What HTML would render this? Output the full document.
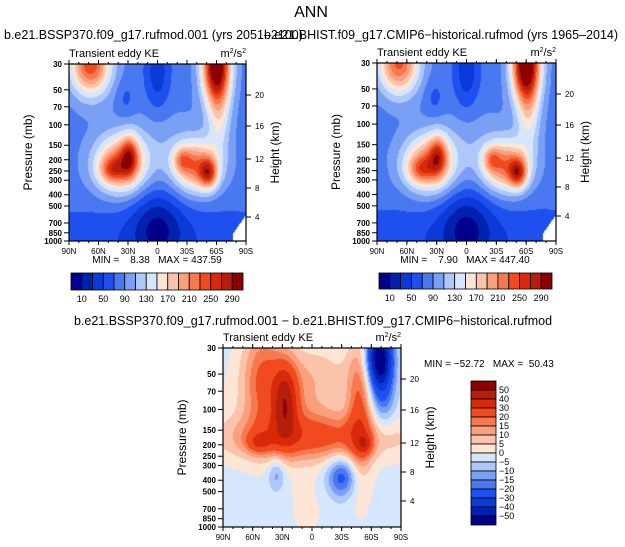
<!DOCTYPE html>
<html><head><meta charset="utf-8">
<style>
body{margin:0;background:#fff;width:625px;height:547px;overflow:hidden;position:relative;font-family:"Liberation Sans",sans-serif}
canvas{position:absolute}
svg{position:absolute;left:0;top:0}
</style></head>
<body>
<canvas id="c1" style="left:69px;top:64px" width="177" height="177"></canvas>
<canvas id="c2" style="left:377px;top:63px" width="179" height="178"></canvas>
<canvas id="c3" style="left:223px;top:348px" width="178" height="179"></canvas>
<svg id="s" width="625" height="547" font-family="Liberation Sans, sans-serif"></svg>
<script>
// Data: blobs [u(0=90N,1=90S), v(0=30mb,1=1000mb), su, sv, amplitude]
const base1 = 82;
const blobs1 = [
 [0.12,0.0,0.08,0.12,165],[0.835,0.0,0.055,0.15,250],[0.85,0.3,0.045,0.15,55],
 [0.34,0.52,0.035,0.08,100],[0.24,0.6,0.05,0.05,60],[0.29,0.57,0.1,0.11,140],
 [0.64,0.54,0.035,0.05,60],[0.79,0.62,0.035,0.06,110],[0.72,0.58,0.09,0.1,135],
 [0.5,0.92,0.1,0.15,-55],[0.5,0.05,0.05,0.15,-45],[0.5,1.0,0.6,0.15,-30],[0.32,0.2,0.04,0.08,-20],
 [0.5,0.45,0.2,0.15,20]
];
const base2 = 81;
const blobs2 = [
 [0.12,0.0,0.08,0.12,155],[0.835,0.0,0.055,0.15,260],[0.85,0.3,0.045,0.15,55],
 [0.34,0.52,0.035,0.08,90],[0.24,0.6,0.05,0.05,55],[0.29,0.57,0.1,0.11,132],
 [0.64,0.54,0.035,0.05,60],[0.79,0.62,0.035,0.06,115],[0.72,0.58,0.09,0.1,135],
 [0.5,0.92,0.1,0.15,-55],[0.5,0.05,0.05,0.15,-45],[0.5,1.0,0.6,0.15,-30],[0.32,0.2,0.04,0.08,-20],
 [0.5,0.45,0.2,0.15,20]
];
const base3 = -2;
const blobs3 = [
 [0.35,0.3,0.05,0.15,35],[0.5,0.5,0.35,0.09,22],[0.22,0.15,0.08,0.22,18],[0.2,0.53,0.05,0.04,15],
 [0.4,0.3,0.2,0.2,12],
 [0.77,0.35,0.05,0.28,22],[0.8,0.54,0.03,0.04,15],[0.88,0.05,0.05,0.12,-55],[0.9,0.25,0.05,0.15,-15],
 [0.3,0.7,0.035,0.07,-12],[0.67,0.72,0.06,0.08,-22],[0.55,0.12,0.15,0.1,4],[0.47,0.9,0.08,0.15,3]
];
const levelsAbs = [10,30,50,70,90,110,130,150,170,190,210,230,250,270,290];
const levelsDiff = [-50,-40,-30,-20,-15,-10,-5,0,5,10,15,20,30,40,50];
const colors = ['#00008c','#0020b0','#0a3ad8','#1e50f0','#4a78f0','#7aa0f5','#aec8fa','#d6e6fc','#fde6d6','#fbc4aa','#f9a07e','#f57a50','#f04a1e','#d82a0a','#b41e0a','#8c0000'];
const latLabels = ['90N','60N','30N','0','30S','60S','90S'];
const presTicks = [30,50,70,100,150,200,250,300,400,500,700,850,1000];
const heightTicks = [4,8,12,16,20];
const heightOffsets = [153,124,95,62,31];

function field(base,blobs,u,v){let f=base;for(const b of blobs){const du=(u-b[0])/b[2],dv=(v-b[1])/b[3];f+=b[4]*Math.exp(-0.5*(du*du+dv*dv));}return f;}
function lvl(val,levels){let i=0;while(i<levels.length&&val>=levels[i])i++;return i;}
function drawCanvas(id,base,blobs,levels,mask){
 const c=document.getElementById(id),ctx=c.getContext('2d');const W=c.width,H=c.height;
 for(let y=0;y<H;y++)for(let x=0;x<W;x++){
  const u=x/(W-1),v=y/(H-1);
  if(mask&&u>0.93&&v>0.88+ (1-(u-0.93)/0.07)*0.1 - 0.02) {continue;}
  ctx.fillStyle=colors[lvl(field(base,blobs,u,v),levels)];ctx.fillRect(x,y,1,1);
 }
}
drawCanvas('c1',base1,blobs1,levelsAbs,true);
drawCanvas('c2',base2,blobs2,levelsAbs,true);
drawCanvas('c3',base3,blobs3,levelsDiff,false);

const s=document.getElementById('s');const NS='http://www.w3.org/2000/svg';
function el(tag,attrs,txt){const e=document.createElementNS(NS,tag);for(const k in attrs)e.setAttribute(k,attrs[k]);if(txt!==undefined)e.textContent=txt;s.appendChild(e);return e;}
function vOf(p){return (Math.log(p)-Math.log(30))/(Math.log(1000)-Math.log(30));}

function axes(x0,y0,w,h,name){
 let r=el('rect',{x:x0,y:y0,width:w,height:h,fill:'none',stroke:'#000','stroke-width':1.2});
 
 latLabels.forEach((l,i)=>{const x=x0+w*i/6;
  el('line',{x1:x,y1:y0+h,x2:x,y2:y0+h+4,stroke:'#000'});el('line',{x1:x,y1:y0,x2:x,y2:y0-4,stroke:'#000'});
  let t=el('text',{x:x,y:y0+h+13,'font-size':8,'text-anchor':'middle'},l);
  
 });
 for(let i=0;i<=18;i++){const x=x0+w*i/18;el('line',{x1:x,y1:y0+h,x2:x,y2:y0+h+2,stroke:'#000'});el('line',{x1:x,y1:y0,x2:x,y2:y0-2,stroke:'#000'});}
 presTicks.forEach(p=>{const y=y0+h*vOf(p);
  el('line',{x1:x0-5,y1:y,x2:x0,y2:y,stroke:'#000'});
  let t=el('text',{x:x0-7,y:y+3,'font-size':8,'text-anchor':'end','font-weight':'bold'},String(p));
  
 });
 heightTicks.forEach((hk,i)=>{const y=y0+heightOffsets[i];
  el('line',{x1:x0+w,y1:y,x2:x0+w+5,y2:y,stroke:'#000'});
  let t=el('text',{x:x0+w+9,y:y+3,'font-size':8},String(hk));
  
 });
 let t=el('text',{x:0,y:0,'font-size':12,'text-anchor':'middle',transform:`translate(${x0-37},${y0+h/2}) rotate(-90)`},'Pressure (mb)');
 
 t=el('text',{x:0,y:0,'font-size':12,'text-anchor':'middle',transform:`translate(${x0+w+33},${y0+h/2}) rotate(-90)`},'Height (km)');
 
 t=el('text',{x:x0,y:y0-7,'font-size':11},'Transient eddy KE');
 
 t=el('text',{x:x0+w,y:y0-7,'font-size':11,'text-anchor':'end'});t.innerHTML='m<tspan font-size="7" dy="-4">2</tspan><tspan dy="4">/s</tspan><tspan font-size="7" dy="-4">2</tspan>';
 
}
axes(69,64,177,177,'future');
axes(377,63,179,178,'historical');
axes(223,348,178,179,'difference');

function hbar(x0,y0,w,h,name){const bw=w/16;
 colors.forEach((c,i)=>{let r=el('rect',{x:x0+i*bw,y:y0,width:bw,height:h,fill:c,stroke:'#000','stroke-width':0.8});
  });
 levelsAbs.forEach((l,i)=>{if(i%2==0){let t=el('text',{x:x0+(i+1)*bw,y:y0+h+12,'font-size':9,'text-anchor':'middle'},String(l));
  }});
}
hbar(71,273,172,17,'colorbar-future');
hbar(379,273,173,16,'colorbar-historical');
(function(){const x0=471,y0=381,w=25,h=144,bh=h/16;
 colors.slice().reverse().forEach((c,i)=>{let r=el('rect',{x:x0,y:y0+i*bh,width:w,height:bh,fill:c,stroke:'#000','stroke-width':0.8});
  });
 levelsDiff.slice().reverse().forEach((l,i)=>{let t=el('text',{x:x0+w+3,y:y0+(i+1)*bh+3,'font-size':9},String(l).replace('-','−'));
  });
})();

const NB='\u00a0';
let t;
t=el('text',{x:311,y:17,'font-size':16,'text-anchor':'middle'},'ANN');
t=el('text',{x:4,y:39,'font-size':12.5},'b.e21.BSSP370.f09_g17.rufmod.001 (yrs 2051–2100)');
t=el('text',{x:264,y:39,'font-size':12.5},'b.e21.BHIST.f09_g17.CMIP6−historical.rufmod (yrs 1965–2014)');
t=el('text',{x:157,y:263,'font-size':10,'text-anchor':'middle'},'MIN ='+NB.repeat(4)+'8.38'+NB.repeat(3)+'MAX = 437.59');
t=el('text',{x:465,y:263,'font-size':10,'text-anchor':'middle'},'MIN ='+NB.repeat(4)+'7.90'+NB.repeat(3)+'MAX = 447.40');
t=el('text',{x:313,y:325,'font-size':12.5,'text-anchor':'middle'},'b.e21.BSSP370.f09_g17.rufmod.001 − b.e21.BHIST.f09_g17.CMIP6−historical.rufmod');
t=el('text',{x:424,y:367,'font-size':10},'MIN = −52.72'+NB.repeat(3)+'MAX ='+NB.repeat(2)+'50.43');
</script>
</body></html>
